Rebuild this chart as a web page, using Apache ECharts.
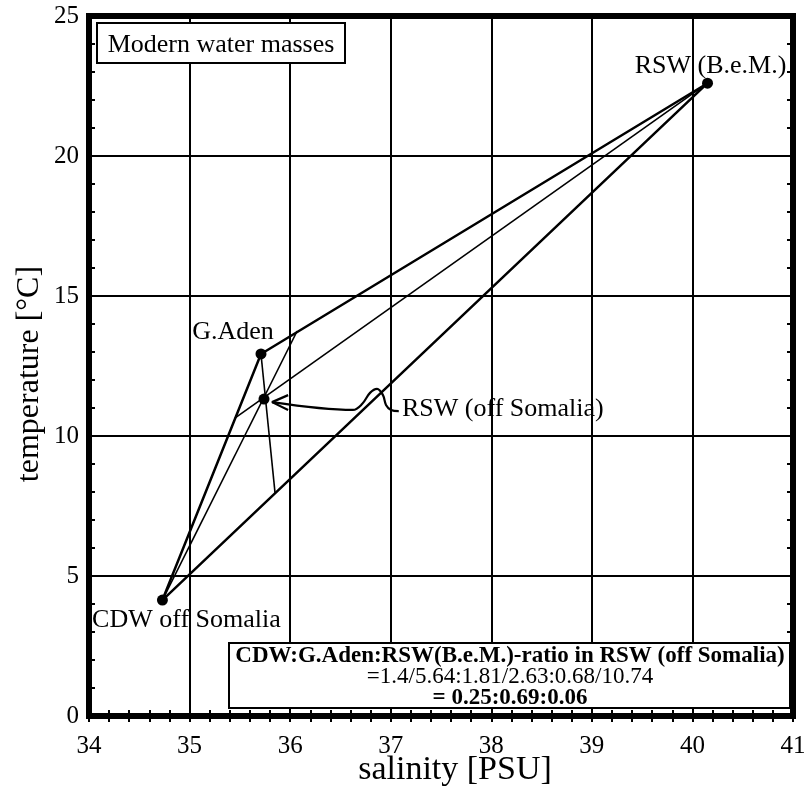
<!DOCTYPE html>
<html>
<head>
<meta charset="utf-8">
<title>Modern water masses</title>
<script src="https://cdn.jsdelivr.net/npm/echarts@6/dist/echarts.min.js"></script>
<style>
  html, body { margin: 0; padding: 0; background: #fff; }
  #myChart { width: 812px; height: 791px; }
</style>
</head>
<body>
<div id="myChart"></div>
<script>
// end members (salinity in PSU, temperature in °C)
const endMembers = ['CDW off Somalia', 'G.Aden', 'RSW (B.e.M.)'];
const endSalinity = [34.73, 35.71, 40.15];
const endTemperature = [4.14, 12.93, 22.6];

// the mixture
const mixName = 'RSW (off Somalia)';
const mixSalinity = 35.74;
const mixTemperature = 11.32;

// far ends of the lines drawn from each end member through the mixture
const constructSalinity = [36.07, 35.85, 35.45];
const constructTemperature = [13.75, 7.96, 10.64];

// pointer from the label to the mixture
const arrowSalinity = [35.82, 36.625, 36.715, 36.794, 36.864, 36.923, 36.953, 37.003, 37.08];
const arrowTemperature = [11.21, 10.93, 11.14, 11.54, 11.68, 11.46, 11.11, 10.93, 10.89];
const headSalinity = [35.98, 35.82, 35.98];
const headTemperature = [11.46, 11.21, 10.93];

const xTicks = [34, 35, 36, 37, 38, 39, 40, 41];
const yTicks = [0, 5, 10, 15, 20, 25];

const ratioLines = [
    'CDW:G.Aden:RSW(B.e.M.)-ratio in RSW (off Somalia)',
    '=1.4/5.64:1.81/2.63:0.68/10.74',
    '= 0.25:0.69:0.06'
];

const serif = '"Liberation Serif", "DejaVu Serif", serif';

function pairs(xs, ys) {
    return xs.map((x, i) => [x, ys[i]]);
}

let myChart = echarts.init(document.getElementById('myChart'));

// triangle C -> G.Aden -> RSW(B.e.M.) -> C
let triangle = pairs(endSalinity, endTemperature);
triangle.push(triangle[0]);

let labelOffsets = [[24, 20], [-28, -22], [3, -17]];

let constructSeries = endMembers.map((name, i) => ({
    type: 'line',
    data: [[endSalinity[i], endTemperature[i]], [constructSalinity[i], constructTemperature[i]]],
    symbol: 'none',
    lineStyle: {color: '#000', width: 1.6},
    silent: true,
    z: 3
}));

let axisCommon = {
    type: 'value',
    axisLine: {show: false},
    axisTick: {show: true, inside: true, length: 6, lineStyle: {color: '#000', width: 2}},
    minorTick: {show: true, splitNumber: 5, length: 6, lineStyle: {color: '#000', width: 2}},
    axisLabel: {color: '#000', fontFamily: serif, fontSize: 25},
    splitLine: {show: false}
};

let pointLabel = {
    show: true,
    position: 'inside',
    color: '#000',
    fontFamily: serif,
    fontSize: 26
};

let option = {
    animation: false,
    backgroundColor: '#fff',
    grid: {
        left: 89, right: 19, top: 16, bottom: 75,
        outerBoundsMode: 'none',
        containLabel: false,
        show: true,
        borderWidth: 6,
        borderColor: '#000',
        backgroundColor: 'transparent'
    },
    xAxis: [
        Object.assign({}, axisCommon, {
            position: 'bottom',
            min: xTicks[0], max: xTicks[xTicks.length - 1], interval: 1,
            axisLabel: Object.assign({}, axisCommon.axisLabel, {margin: 18}),
            splitLine: {show: true, lineStyle: {color: '#000', width: 2}},
            name: 'salinity [PSU]',
            nameLocation: 'middle',
            nameGap: 37,
            nameMoveOverlap: false,
            nameTextStyle: {color: '#000', fontFamily: serif, fontSize: 34, padding: [0, 0, 0, 28]}
        }),
        Object.assign({}, axisCommon, {
            position: 'top',
            min: xTicks[0], max: xTicks[xTicks.length - 1], interval: 1,
            axisLabel: {show: false}
        })
    ],
    yAxis: [
        Object.assign({}, axisCommon, {
            position: 'left',
            min: yTicks[0], max: yTicks[yTicks.length - 1], interval: 5,
            axisLabel: Object.assign({}, axisCommon.axisLabel, {margin: 10, padding: [14, 0, 0, 0]}),
            splitLine: {show: true, lineStyle: {color: '#000', width: 2}},
            name: 'temperature [°C]',
            nameLocation: 'middle',
            nameGap: 43,
            nameMoveOverlap: false,
            nameTextStyle: {color: '#000', fontFamily: serif, fontSize: 32, padding: [0, 16, 0, 0]}
        }),
        Object.assign({}, axisCommon, {
            position: 'right',
            min: yTicks[0], max: yTicks[yTicks.length - 1], interval: 5,
            axisLabel: {show: false}
        })
    ],
    series: [
        {
            type: 'line',
            data: triangle,
            symbol: 'none',
            lineStyle: {color: '#000', width: 2.5},
            silent: true,
            z: 3
        },
        ...constructSeries,
        {
            type: 'line',
            data: pairs(arrowSalinity, arrowTemperature),
            symbol: 'none',
            smooth: 0.35,
            lineStyle: {color: '#000', width: 2.2},
            silent: true,
            z: 4
        },
        {
            type: 'line',
            data: pairs(headSalinity, headTemperature),
            symbol: 'none',
            lineStyle: {color: '#000', width: 2.2},
            silent: true,
            z: 4
        },
        {
            type: 'scatter',
            symbol: 'circle',
            symbolSize: 11,
            itemStyle: {color: '#000', opacity: 1},
            z: 5,
            data: endMembers.map((name, i) => ({
                value: [endSalinity[i], endTemperature[i]],
                label: Object.assign({}, pointLabel, {formatter: name, offset: labelOffsets[i]})
            }))
        },
        {
            type: 'scatter',
            symbol: 'circle',
            symbolSize: 11,
            itemStyle: {color: '#000', opacity: 1},
            z: 5,
            data: [{
                value: [mixSalinity, mixTemperature],
                label: Object.assign({}, pointLabel, {formatter: mixName, align: 'left', offset: [138, 10]})
            }]
        }
    ],
    graphic: [
        {
            type: 'group',
            z: 100,
            children: [
                {
                    type: 'rect',
                    z: 100,
                    shape: {x: 97, y: 23, width: 248, height: 40},
                    style: {fill: '#fff', stroke: '#000', lineWidth: 2}
                },
                {
                    type: 'text',
                    z: 101,
                    x: 221, y: 45,
                    style: {
                        text: 'Modern water masses', fill: '#000',
                        font: '26px ' + serif,
                        align: 'center', verticalAlign: 'middle',
                        textAlign: 'center', textVerticalAlign: 'middle'
                    }
                }
            ]
        },
        {
            type: 'group',
            z: 100,
            children: [
                {
                    type: 'rect',
                    z: 100,
                    shape: {x: 229, y: 643, width: 561, height: 65},
                    style: {fill: '#fff', stroke: '#000', lineWidth: 2}
                },
                ...ratioLines.map((t, i) => ({
                    type: 'text',
                    z: 101,
                    x: 510, y: [656, 677, 698][i],
                    style: {
                        text: t, fill: '#000',
                        font: (i === 1 ? '' : 'bold ') + '23px ' + serif,
                        align: 'center', verticalAlign: 'middle',
                        textAlign: 'center', textVerticalAlign: 'middle'
                    }
                }))
            ]
        }
    ]
};

myChart.setOption(option);
</script>
</body>
</html>
